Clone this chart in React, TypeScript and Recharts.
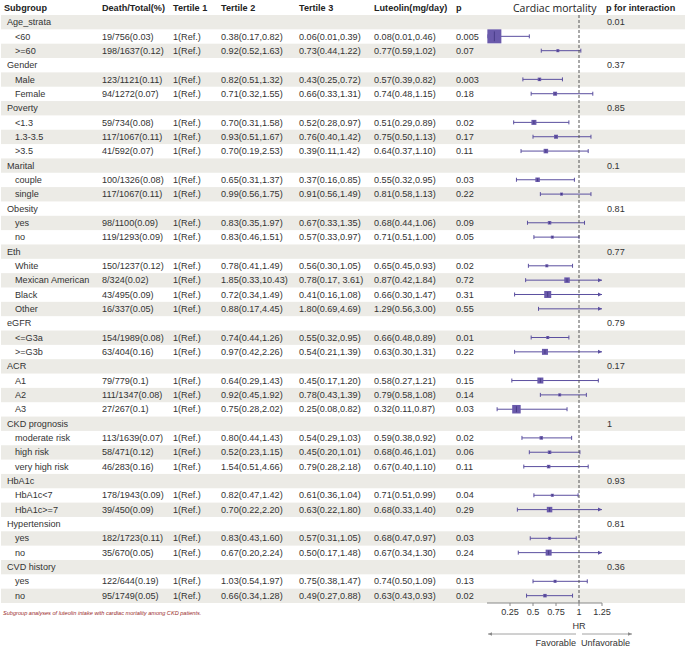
import { ComposedChart, Bar, XAxis, YAxis, ReferenceLine } from 'recharts';

const groupNames = [
  'Age_strata', 'Gender', 'Poverty', 'Marital', 'Obesity', 'Eth',
  'eGFR', 'ACR', 'CKD prognosis', 'HbA1c', 'Hypertension', 'CVD history',
];
const groupSizes = [2, 2, 3, 2, 2, 4, 2, 3, 3, 2, 2, 2];
const pInteraction = ['0.01', '0.37', '0.85', '0.1', '0.81', '0.77', '0.79', '0.17', '1', '0.93', '0.81', '0.36'];

const subLabels = [
  '<60', '>=60', 'Male', 'Female', '<1.3', '1.3-3.5', '>3.5', 'couple', 'single',
  'yes', 'no', 'White', 'Mexican American', 'Black', 'Other', '<=G3a', '>=G3b',
  'A1', 'A2', 'A3', 'moderate risk', 'high risk', 'very high risk',
  'HbA1c<7', 'HbA1c>=7', 'yes', 'no', 'yes', 'no',
];
const deathTotal = [
  '19/756(0.03)', '198/1637(0.12)', '123/1121(0.11)', '94/1272(0.07)', '59/734(0.08)',
  '117/1067(0.11)', '41/592(0.07)', '100/1326(0.08)', '117/1067(0.11)', '98/1100(0.09)',
  '119/1293(0.09)', '150/1237(0.12)', '8/324(0.02)', '43/495(0.09)', '16/337(0.05)',
  '154/1989(0.08)', '63/404(0.16)', '79/779(0.1)', '111/1347(0.08)', '27/267(0.1)',
  '113/1639(0.07)', '58/471(0.12)', '46/283(0.16)', '178/1943(0.09)', '39/450(0.09)',
  '182/1723(0.11)', '35/670(0.05)', '122/644(0.19)', '95/1749(0.05)',
];
const tertile1 = '1(Ref.)';
const tertile2 = [
  '0.38(0.17,0.82)', '0.92(0.52,1.63)', '0.82(0.51,1.32)', '0.71(0.32,1.55)', '0.70(0.31,1.58)',
  '0.93(0.51,1.67)', '0.70(0.19,2.53)', '0.65(0.31,1.37)', '0.99(0.56,1.75)', '0.83(0.35,1.97)',
  '0.83(0.46,1.51)', '0.78(0.41,1.49)', '1.85(0.33,10.43)', '0.72(0.34,1.49)', '0.88(0.17,4.45)',
  '0.74(0.44,1.26)', '0.97(0.42,2.26)', '0.64(0.29,1.43)', '0.92(0.45,1.92)', '0.75(0.28,2.02)',
  '0.80(0.44,1.43)', '0.52(0.23,1.15)', '1.54(0.51,4.66)', '0.82(0.47,1.42)', '0.70(0.22,2.20)',
  '0.83(0.43,1.60)', '0.67(0.20,2.24)', '1.03(0.54,1.97)', '0.66(0.34,1.28)',
];
const tertile3 = [
  '0.06(0.01,0.39)', '0.73(0.44,1.22)', '0.43(0.25,0.72)', '0.66(0.33,1.31)', '0.52(0.28,0.97)',
  '0.76(0.40,1.42)', '0.39(0.11,1.42)', '0.37(0.16,0.85)', '0.91(0.56,1.49)', '0.67(0.33,1.35)',
  '0.57(0.33,0.97)', '0.56(0.30,1.05)', '0.78(0.17, 3.61)', '0.41(0.16,1.08)', '1.80(0.69,4.69)',
  '0.55(0.32,0.95)', '0.54(0.21,1.39)', '0.45(0.17,1.20)', '0.78(0.43,1.39)', '0.25(0.08,0.82)',
  '0.54(0.29,1.03)', '0.45(0.20,1.01)', '0.79(0.28,2.18)', '0.61(0.36,1.04)', '0.63(0.22,1.80)',
  '0.57(0.31,1.05)', '0.50(0.17,1.48)', '0.75(0.38,1.47)', '0.49(0.27,0.88)',
];
const hr = [0.08, 0.77, 0.57, 0.74, 0.51, 0.75, 0.64, 0.55, 0.81, 0.68, 0.71, 0.65, 0.87, 0.66, 1.29,
  0.66, 0.63, 0.58, 0.79, 0.32, 0.59, 0.68, 0.67, 0.71, 0.68, 0.68, 0.67, 0.74, 0.63];
const hrLow = [0.01, 0.59, 0.39, 0.48, 0.29, 0.5, 0.37, 0.32, 0.58, 0.44, 0.51, 0.45, 0.42, 0.3, 0.56,
  0.48, 0.3, 0.27, 0.58, 0.11, 0.38, 0.46, 0.4, 0.51, 0.33, 0.47, 0.34, 0.5, 0.43];
const hrHigh = [0.46, 1.02, 0.82, 1.15, 0.89, 1.13, 1.1, 0.95, 1.13, 1.06, 1.0, 0.93, 1.84, 1.47, 3.0,
  0.89, 1.31, 1.21, 1.08, 0.87, 0.92, 1.01, 1.1, 0.99, 1.4, 0.97, 1.3, 1.09, 0.93];
const pValues = ['0.005', '0.07', '0.003', '0.18', '0.02', '0.17', '0.11', '0.03', '0.22', '0.09',
  '0.05', '0.02', '0.72', '0.31', '0.55', '0.01', '0.22', '0.15', '0.14', '0.03', '0.02', '0.06',
  '0.11', '0.04', '0.29', '0.03', '0.24', '0.13', '0.02'];
// marker side in px
const boxSize = [14, 3, 3.5, 4, 5, 4, 4.5, 4.5, 3, 3.5, 3, 3, 5.5, 7, 0, 3, 6, 6, 3, 8.5,
  3.5, 3.5, 3.5, 3, 5.5, 3, 6, 3, 3.5];

const X_MAX = 1.25;
const axisTicks = [0.25, 0.5, 0.75, 1, 1.25];

const W = 685;
const H = 649;
const TOP = 15;
const AXIS_H = 46;
const LEFT = 487;
const RIGHT = 83;

const FONT = '"Liberation Sans", Arial, sans-serif';
const FS = 9.1;
const TEXT = '#333';
const STRIPE = '#ecebe6';
const PURPLE = '#5b4f9f';

type Row = {
  id: string;
  group: boolean;
  label: string;
  pInt?: string;
  deathTotal?: string;
  t2?: string;
  t3?: string;
  hr?: number;
  lo?: number;
  hi?: number;
  p?: string;
  box?: number;
  ci?: [number, number];
};

const rows: Row[] = [];
let k = 0;
groupNames.forEach((g, gi) => {
  rows.push({ id: `g${gi}`, group: true, label: g, pInt: pInteraction[gi] });
  for (let j = 0; j < groupSizes[gi]; j++, k++) {
    rows.push({
      id: `s${k}`,
      group: false,
      label: subLabels[k],
      deathTotal: deathTotal[k],
      t2: tertile2[k],
      t3: tertile3[k],
      hr: hr[k],
      lo: hrLow[k],
      hi: hrHigh[k],
      p: pValues[k],
      box: boxSize[k],
      ci: [hrLow[k], Math.min(hrHigh[k], X_MAX)],
    });
  }
});
const rowIndex = new Map(rows.map((r, i) => [r.id, i]));
const BAND = (H - TOP - AXIS_H) / rows.length;

const fmt = (v: number) => v.toFixed(2);

function RowTick({ y, payload }: any) {
  const i = rowIndex.get(payload.value) ?? 0;
  const r = rows[i];
  const t = (x: number, s?: string) =>
    s ? (
      <text x={x} y={y} dominantBaseline="central" fontSize={FS} fontFamily={FONT} fill={TEXT}>
        {s}
      </text>
    ) : null;
  return (
    <g>
      {i % 2 === 0 && <rect x={1} y={y - BAND / 2} width={W - 1} height={BAND} fill={STRIPE} />}
      {r.group ? (
        <>
          {t(7, r.label)}
          {t(607, r.pInt)}
        </>
      ) : (
        <>
          {t(15, r.label)}
          {t(102, r.deathTotal)}
          {t(173, tertile1)}
          {t(221, r.t2)}
          {t(299, r.t3)}
          {t(374, `${fmt(r.hr!)}(${fmt(r.lo!)},${fmt(r.hi!)})`)}
          {t(456, r.p)}
        </>
      )}
    </g>
  );
}

function ForestShape(props: any) {
  const { x, y, width, height, payload } = props;
  if (!payload || payload.hr == null) return null;
  const cy = y + height / 2;
  const [lo, hiC] = payload.ci;
  const perUnit = width / (hiC - lo);
  const x2 = x + width;
  const clipped = payload.hi > X_MAX;
  const showBox = payload.hr <= X_MAX && payload.box > 0;
  const ex = x + (payload.hr - lo) * perUnit;
  const s = payload.box;
  return (
    <g>
      <line x1={x} x2={x2} y1={cy} y2={cy} stroke={PURPLE} strokeWidth={1} />
      <line x1={x} x2={x} y1={cy - 2} y2={cy + 2} stroke={PURPLE} strokeWidth={1} />
      {clipped ? (
        <path d={`M${x2 - 4},${cy - 2} L${x2},${cy} L${x2 - 4},${cy + 2} Z`} fill={PURPLE} />
      ) : (
        <line x1={x2} x2={x2} y1={cy - 2} y2={cy + 2} stroke={PURPLE} strokeWidth={1} />
      )}
      {showBox && (
        <>
          <rect x={ex - s / 2} y={cy - s / 2} width={s} height={s} fill="#6a5aab" />
          <line x1={ex} x2={ex} y1={cy - s * 0.35} y2={cy + s * 0.35} stroke="#40357f" strokeWidth={0.8} />
        </>
      )}
    </g>
  );
}

// dashed null line, kept inside the plotting band (stops at the axis)
function NullLine(props: any) {
  const { x1, y1, y2 } = props;
  const top = Math.min(y1, y2);
  const bottom = Math.min(Math.max(y1, y2), H - AXIS_H);
  return <line x1={x1} x2={x1} y1={top} y2={bottom} stroke="#555" strokeDasharray="3 2" strokeWidth={1} />;
}

function AxisNotes({ viewBox }: any) {
  const { x, y, width } = viewBox;
  const xOne = x + width * (1 / X_MAX);
  const ay = y + 31;
  const grey = '#8a8a8a';
  return (
    <g fontFamily={FONT} fontSize={FS} fill={TEXT}>
      <text x={xOne} y={y + 23} textAnchor="middle" dominantBaseline="central">HR</text>
      <line x1={xOne - 3} x2={x + 1} y1={ay} y2={ay} stroke={grey} strokeWidth={0.8} />
      <path d={`M${x + 1},${ay} l4,-1.8 l0,3.6 Z`} fill={grey} />
      <line x1={xOne + 3} x2={xOne + 53} y1={ay} y2={ay} stroke={grey} strokeWidth={0.8} />
      <path d={`M${xOne + 53},${ay} l-4,-1.8 l0,3.6 Z`} fill={grey} />
      <text x={xOne - 3} y={y + 40} textAnchor="end" dominantBaseline="central">Favorable</text>
      <text x={xOne + 2} y={y + 40} textAnchor="start" dominantBaseline="central">Unfavorable</text>
    </g>
  );
}

const headers: [string, number][] = [
  ['Subgroup', 4],
  ['Death/Total(%)', 102],
  ['Tertile 1', 173],
  ['Tertile 2', 221],
  ['Tertile 3', 299],
  ['Luteolin(mg/day)', 374],
  ['p', 456],
  ['p for interaction', 606],
];

export default function App() {
  return (
    <div style={{ position: 'absolute', left: 0, top: 0, width: W, height: H, background: '#fff' }}>
      <div style={{ position: 'absolute', left: 0, top: 0 }}>
        <ComposedChart
          width={W}
          height={H}
          data={rows}
          layout="vertical"
          margin={{ top: TOP, right: RIGHT, bottom: AXIS_H, left: 0 }}
          barCategoryGap={0}
        >
          <XAxis type="number" domain={[0, X_MAX]} hide />
          <YAxis
            type="category"
            dataKey="id"
            width={LEFT}
            interval={0}
            axisLine={false}
            tickLine={false}
            tick={<RowTick />}
          />
          <Bar dataKey="ci" fill="transparent" isAnimationActive={false} />
        </ComposedChart>
      </div>
      <div style={{ position: 'absolute', left: 0, top: 0, pointerEvents: 'none' }}>
        <ComposedChart
          width={W}
          height={H}
          data={rows}
          layout="vertical"
          margin={{ top: TOP, right: RIGHT, bottom: 0, left: LEFT }}
          barCategoryGap={0}
        >
          <XAxis
            type="number"
            domain={[0, X_MAX]}
            allowDataOverflow
            ticks={axisTicks}
            tickFormatter={(v: number) => String(v)}
            height={AXIS_H}
            tickSize={3}
            tickMargin={3}
            axisLine={{ stroke: '#888' }}
            tickLine={{ stroke: '#888' }}
            tick={{ fontSize: FS, fontFamily: FONT, fill: TEXT }}
            label={<AxisNotes />}
          />
          <YAxis type="category" dataKey="id" hide />
          <ReferenceLine x={1} shape={<NullLine />} />
          <Bar dataKey="ci" isAnimationActive={false} shape={<ForestShape />} />
        </ComposedChart>
      </div>
      <svg width={W} height={H} style={{ position: 'absolute', left: 0, top: 0, pointerEvents: 'none' }}>
        {headers.map(([h, x]) => (
          <text key={h} x={x} y={8} dominantBaseline="central" fontSize={FS} fontWeight="bold" fontFamily={FONT} fill="#222">
            {h}
          </text>
        ))}
        <text x={513} y={7.5} dominantBaseline="central" fontSize={10.5} fontFamily='"Open Sans", sans-serif' fill="#222">
          Cardiac mortality
        </text>
        <text x={3} y={613} dominantBaseline="central" fontSize={5.6} fontStyle="italic" fontFamily={FONT} fill="#9a2b2b">
          Subgroup analyses of luteolin intake with cardiac mortality among CKD patients.
        </text>
      </svg>
    </div>
  );
}
